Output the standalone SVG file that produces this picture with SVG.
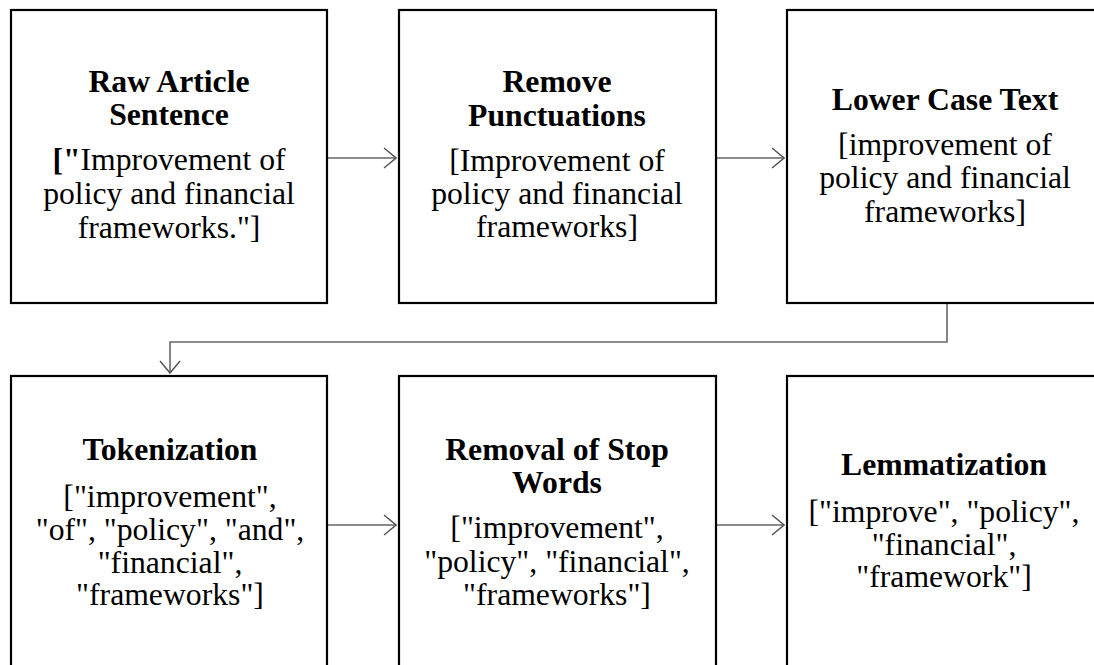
<svg xmlns="http://www.w3.org/2000/svg" width="1094" height="665" viewBox="0 0 1094 665">
<defs>
<marker id="arr" viewBox="0 0 14 22" refX="13" refY="11" markerWidth="14" markerHeight="22" markerUnits="userSpaceOnUse" orient="auto">
<path d="M1,1 L13,11 L1,21" fill="none" stroke="#555" stroke-width="1.5"/>
</marker>
</defs>
<style>
.box{fill:#fff;stroke:#000;stroke-width:2.2}
.t{font-family:'Liberation Serif','Times New Roman',serif;font-size:31.7px;text-anchor:middle;fill:#000}
.b{font-weight:bold}
.c{fill:none;stroke:#666;stroke-width:1.6}
</style>
<rect width="1094" height="665" fill="#fff"/>
<g id="connectors">
<path class="c" d="M328,158 H396" marker-end="url(#arr)"/>
<path class="c" d="M717,158 H784" marker-end="url(#arr)"/>
<path class="c" d="M947,304 V342 H170 V373" marker-end="url(#arr)"/>
<path class="c" d="M328,525 H396" marker-end="url(#arr)"/>
<path class="c" d="M717,525 H784" marker-end="url(#arr)"/>
</g>
<g id="node1">
<rect class="box" x="11" y="10" width="316" height="293"/>
<text class="t b" x="169" y="92">Raw Article</text>
<text class="t b" x="169" y="125">Sentence</text>
<text class="t" x="169" y="170"><tspan class="b">["</tspan>Improvement of</text>
<text class="t" x="169" y="204">policy and financial</text>
<text class="t" x="169" y="238">frameworks."]</text>
</g>
<g id="node2">
<rect class="box" x="399" y="10" width="317" height="293"/>
<text class="t b" x="557" y="92">Remove</text>
<text class="t b" x="557" y="126">Punctuations</text>
<text class="t" x="557" y="171">[Improvement of</text>
<text class="t" x="557" y="204">policy and financial</text>
<text class="t" x="557" y="237">frameworks]</text>
</g>
<g id="node3">
<rect class="box" x="787" y="10" width="320" height="293"/>
<text class="t b" x="945" y="110">Lower Case Text</text>
<text class="t" x="945" y="155">[improvement of</text>
<text class="t" x="945" y="188">policy and financial</text>
<text class="t" x="945" y="222">frameworks]</text>
</g>
<g id="node4">
<rect class="box" x="11" y="376" width="316" height="300"/>
<text class="t b" x="170" y="460">Tokenization</text>
<text class="t" x="170" y="507">["improvement",</text>
<text class="t" x="170" y="540">"of", "policy", "and",</text>
<text class="t" x="170" y="573">"financial",</text>
<text class="t" x="170" y="605">"frameworks"]</text>
</g>
<g id="node5">
<rect class="box" x="399" y="376" width="317" height="300"/>
<text class="t b" x="557" y="460">Removal of Stop</text>
<text class="t b" x="557" y="493">Words</text>
<text class="t" x="557" y="538">["improvement",</text>
<text class="t" x="557" y="572">"policy", "financial",</text>
<text class="t" x="557" y="605">"frameworks"]</text>
</g>
<g id="node6">
<rect class="box" x="787" y="376" width="320" height="300"/>
<text class="t b" x="944" y="475">Lemmatization</text>
<text class="t" x="944" y="522">["improve", "policy",</text>
<text class="t" x="944" y="555">"financial",</text>
<text class="t" x="944" y="587">"framework"]</text>
</g>
</svg>
